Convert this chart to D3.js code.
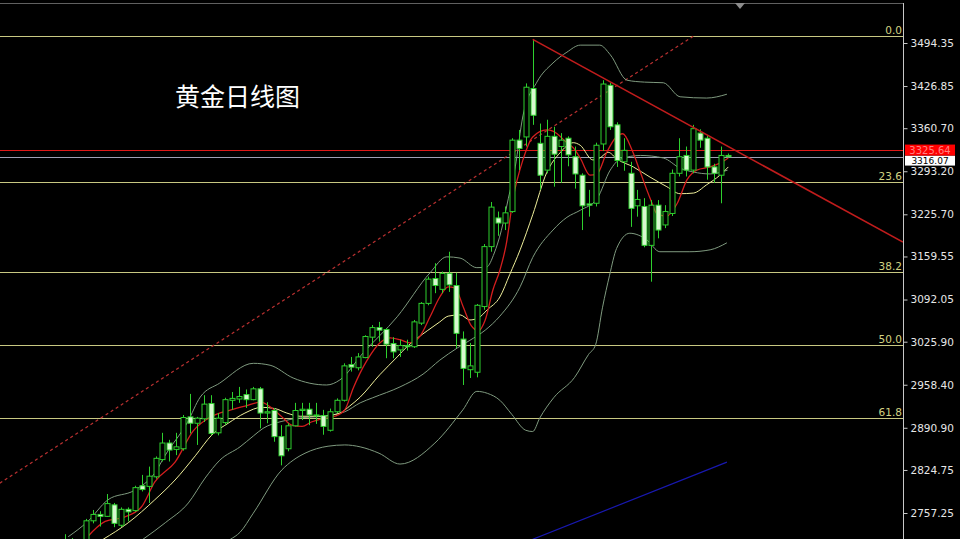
<!DOCTYPE html>
<html><head><meta charset="utf-8">
<script src="https://cdn.jsdelivr.net/npm/d3@7"></script>
<style>html,body{margin:0;padding:0;background:#000;overflow:hidden}</style>
</head><body>
<svg id="c" width="960" height="539"></svg>
<script>
// ---- data (XAUUSD daily) ----
const firstIndex = -3;
const opens  = [2705,2715,2703,2710,2745,2755,2752,2770,2738,2763,2761,2800,2799,2814,2841,2867,2857,2858,2908,2898,2905,2929,2883,2899,2934,2936,2943,2935,2952,2914,2918,2877,2858,2894,2918,2920,2911,2910,2887,2916,2934,2990,2985,3001,3033,3048,3045,3023,3013,3020,3018,3055,3086,3125,3108,3133,3114,3030,2982,2978,3081,3175,3220,3212,3230,3342,3347,3423,3337,3295,3348,3332,3345,3316,3287,3242,3243,3336,3428,3366,3308,3290,3239,3238,3177,3240,3209,3227,3290,3318,3295,3353,3345,3300,3287,3318];
const highs  = [2724,2718,2716,2748,2762,2760,2787,2773,2766,2766,2800,2817,2830,2846,2883,2872,2883,2911,2944,2908,2942,2942,2914,2938,2947,2955,2951,2955,2955,2931,2922,2895,2898,2930,2930,2930,2930,2919,2921,2937,2992,3002,3008,3036,3052,3057,3047,3033,3029,3029,3060,3088,3128,3149,3136,3167,3134,3042,3024,3085,3179,3245,3230,3238,3345,3358,3431,3500,3368,3374,3363,3353,3348,3332,3290,3264,3338,3436,3432,3370,3345,3308,3264,3251,3248,3248,3240,3296,3345,3332,3366,3359,3350,3305,3332,3321];
const lows   = [2697,2698,2696,2706,2741,2736,2751,2735,2735,2744,2759,2791,2773,2811,2838,2838,2848,2855,2882,2864,2900,2879,2879,2895,2919,2930,2922,2934,2890,2898,2869,2832,2854,2893,2903,2895,2897,2880,2885,2914,2932,2979,2981,3000,3018,3026,3000,3000,3002,3012,3016,3052,3083,3102,3102,3104,3016,2958,2969,2970,3076,3167,3192,3201,3228,3295,3332,3366,3264,3290,3269,3275,3301,3266,3201,3222,3238,3325,3358,3300,3294,3206,3222,3174,3120,3188,3204,3223,3285,3285,3290,3330,3280,3275,3243,3315];
const closes = [2715,2703,2708,2745,2755,2752,2772,2741,2763,2759,2797,2794,2815,2843,2867,2856,2861,2907,2898,2906,2928,2882,2906,2935,2937,2940,2935,2952,2914,2916,2877,2847,2894,2918,2920,2911,2910,2893,2916,2934,2988,2986,3002,3034,3048,3044,3022,3010,3020,3018,3057,3086,3124,3114,3133,3115,3039,2984,2988,3083,3175,3237,3212,3228,3342,3329,3425,3381,3287,3348,3320,3342,3319,3289,3239,3240,3334,3430,3363,3310,3326,3235,3249,3177,3240,3201,3230,3290,3316,3295,3360,3342,3300,3290,3318,3316];

// indicator lines: [candle index, price]
const ma5Line = [[0.1,2718],[2.8,2744],[5.6,2751],[8,2767],[9.9,2806],[12.8,2837],[15.4,2886],[17.9,2908],[20.8,2919],[22.8,2925],[25.1,2931],[26.5,2923],[28.1,2908],[29.5,2895],[31,2893],[32.3,2900],[33.8,2905],[35.7,2909],[37.1,2919],[38.3,2953],[39.3,2977],[40.3,2997],[42.1,3024],[43.6,3032],[45,3029],[46.4,3024],[47.9,3035],[49.3,3065],[50.7,3096],[51.9,3112],[52.9,3110],[54,3082],[55.2,3051],[56.2,3043],[57.2,3060],[58.3,3107],[59.3,3138],[60.2,3178],[61.2,3251],[62.6,3311],[64,3347],[66,3358],[66.9,3356],[68.9,3338],[69.8,3330],[70.8,3314],[72.2,3287],[73.2,3289],[74.6,3323],[75.8,3345],[76.9,3352],[78.2,3327],[79.4,3292],[80.8,3251],[81.9,3225],[83.2,3223],[84.7,3243],[86.1,3280],[87.5,3295],[89.4,3300],[90.8,3306],[92,3314]];
const ma10Line = [[2.5,2716],[6.1,2742],[9.9,2778],[12.8,2809],[15.7,2847],[18.1,2880],[20.4,2898],[22.8,2914],[25.2,2923],[27.1,2921],[28.8,2914],[30.7,2909],[33.8,2909],[36.4,2914],[37.8,2925],[39.3,2939],[42.1,2974],[44.6,3002],[46,3018],[48.9,3043],[50.7,3057],[51.9,3066],[53.6,3068],[55,3060],[56.2,3063],[57.5,3076],[59.3,3096],[60.7,3131],[62.2,3170],[64,3225],[66,3291],[67.9,3322],[69.8,3338],[70.8,3334],[72.6,3311],[73.6,3314],[74.8,3323],[76.1,3312],[78.4,3300],[80.8,3284],[83.2,3269],[85.1,3258],[87,3259],[88.9,3272],[90.8,3287],[92,3300]];
const bbUpper = [[-2.5,2720],[0.3,2744],[3.2,2778],[7,2793],[9.9,2820],[11.4,2848],[14.6,2900],[16.4,2939],[19.2,2961],[24,2992],[26.4,2989],[29.7,2969],[34.5,2958],[36.4,2966],[39.7,3008],[44.6,3065],[49.3,3134],[51.7,3159],[53.6,3157],[56,3142],[57.4,3143],[58.5,3165],[59.5,3200],[60.5,3250],[61.5,3300],[62.6,3380],[64.6,3433],[66.9,3463],[68.9,3480],[70.8,3491],[73.6,3491],[75.1,3476],[77.5,3436],[80,3433],[82.7,3432],[85.1,3410],[88.9,3408],[91.8,3414]];
const bbMiddle = [[8.2,2716],[11.4,2742],[14.7,2773],[17.1,2812],[19.2,2840],[22.1,2861],[24,2878],[25.4,2890],[28.1,2901],[30.4,2906],[33.8,2909],[37.1,2916],[39.3,2930],[41.1,2938],[45,2955],[48.3,2975],[50.7,2997],[53.2,3016],[55,3028],[57.2,3044],[59.3,3066],[62.2,3112],[64,3158],[66.9,3201],[68.9,3221],[70.8,3232],[73.2,3250],[75.1,3295],[76.5,3312],[79.4,3318],[82.7,3314],[85.1,3298],[87,3292],[89.4,3289],[91.9,3295]];
const bbLower = [[20.7,2716],[22.1,2727],[24,2757],[28.1,2825],[29.7,2840],[31.4,2851],[34.7,2862],[37.1,2864],[39.3,2861],[42,2851],[45,2834],[50,2867],[54,2919],[56,2948],[57.5,2945],[59.3,2934],[61,2912],[63,2887],[64,2885],[65,2906],[67,2938],[70,2970],[72,3006],[73,3021],[74,3080],[75,3130],[76,3172],[77.9,3196],[80.3,3186],[82.2,3167],[86.5,3167],[89.4,3170],[91.8,3181]];
const blueLine = [[64,2716],[91.8,2837]];
const dottedTrend = [[-12.3,2804],[87,3505]];
const solidTrend = [[64,3500],[117,3182]];

const fibPrices = [3505.3,3276.3,3135.2,3020.7,2906.2];
const fibLabels = ["0.0","23.6","38.2","50.0","61.8"];
const tickValues = [3494.35,3426.85,3360.70,3293.20,3225.70,3159.55,3092.05,3025.90,2958.40,2890.90,2824.75,2757.25];
const markLine = 3325.64;
const bidLine = 3316.07;
const title = "黄金日线图";

// ---- drawing ----
const svg = d3.select("#c");
const W = 960, H = 539, axisX = 903;
const x = d3.scaleLinear().domain([-3, 92]).range([64.7, 728.3]);
const y = d3.scaleLinear().domain([2757.25, 3494.35]).range([513, 43]);

svg.append("rect").attr("width",W).attr("height",H).attr("fill","#000");
svg.append("defs").append("clipPath").attr("id","clip")
  .append("rect").attr("x",0).attr("y",0).attr("width",axisX).attr("height",H);
const g = svg.append("g").attr("clip-path","url(#clip)");

// fib lines
fibPrices.forEach((p,i)=>{
  g.append("line").attr("x1",0).attr("x2",axisX).attr("y1",Math.round(y(p))+0.5).attr("y2",Math.round(y(p))+0.5)
    .attr("stroke","#c8c882").attr("stroke-width",1);
  svg.append("text").attr("x",axisX-1).attr("y",Math.round(y(p))-2).attr("text-anchor","end")
    .attr("font-family","DejaVu Sans, sans-serif").attr("font-size",10.5).attr("fill","#d2d282").text(fibLabels[i]);
});

// horizontal price lines
g.append("line").attr("x1",0).attr("x2",axisX).attr("y1",Math.round(y(bidLine))+0.5).attr("y2",Math.round(y(bidLine))+0.5)
  .attr("stroke","#a0a0b4").attr("stroke-width",1);
g.append("line").attr("x1",0).attr("x2",axisX).attr("y1",Math.round(y(markLine))-0.5).attr("y2",Math.round(y(markLine))-0.5)
  .attr("stroke","#e01818").attr("stroke-width",1);

const line = d3.line().x(d=>x(d[0])).y(d=>y(d[1])).curve(d3.curveMonotoneX);
const straight = d3.line().x(d=>x(d[0])).y(d=>y(d[1]));

g.append("path").attr("d",straight(dottedTrend)).attr("fill","none").attr("stroke","#b83030")
  .attr("stroke-width",1.3).attr("stroke-dasharray","3,3");

[bbUpper,bbMiddle,bbLower].forEach(l=>{
  g.append("path").attr("d",line(l)).attr("fill","none").attr("stroke","#7f9a7f").attr("stroke-width",1);
});
g.append("path").attr("d",line(ma10Line)).attr("fill","none").attr("stroke","#eeee9a").attr("stroke-width",1);
g.append("path").attr("d",line(ma5Line)).attr("fill","none").attr("stroke","#d41e1e").attr("stroke-width",1.3);
g.append("path").attr("d",straight(blueLine)).attr("fill","none").attr("stroke","#1818b0").attr("stroke-width",1.2);

// candles
const candles = opens.map((o,i)=>({i:firstIndex+i,o,h:highs[i],l:lows[i],c:closes[i]}));
const cg = g.append("g");
cg.selectAll("line.w").data(candles).join("line")
  .attr("x1",d=>Math.round(x(d.i))+0.5).attr("x2",d=>Math.round(x(d.i))+0.5)
  .attr("y1",d=>y(d.h)).attr("y2",d=>y(d.l)).attr("stroke","#2ed02e").attr("stroke-width",1);
cg.selectAll("rect.b").data(candles).join("rect")
  .attr("x",d=>Math.round(x(d.i))-2).attr("width",5)
  .attr("y",d=>y(Math.max(d.o,d.c))).attr("height",d=>Math.max(1,Math.abs(y(d.o)-y(d.c))))
  .attr("fill",d=>d.c>=d.o?"#000":"#d8f8d0").attr("stroke","#2ed02e").attr("stroke-width",1);

g.append("path").attr("d",straight(solidTrend)).attr("fill","none").attr("stroke","#c01c1c").attr("stroke-width",1.6);

// axis
svg.append("line").attr("x1",axisX+0.5).attr("x2",axisX+0.5).attr("y1",3).attr("y2",H).attr("stroke","#c8c8c8");
const ax = svg.append("g").attr("transform",`translate(${axisX+0.5},0)`)
  .call(d3.axisRight(y).tickValues(tickValues).tickFormat(d3.format(".2f")).tickSize(4).tickPadding(3));
ax.select(".domain").remove();
ax.selectAll("line").attr("stroke","#c8c8c8");
ax.selectAll("text").attr("fill","#e6e6e6").attr("font-family","DejaVu Sans, sans-serif").attr("font-size",10.5);

// price labels (white bid label partly under the red one, as in the reference)
const bidY = y(bidLine), markY = y(markLine);
svg.append("rect").attr("x",905).attr("y",markY+5).attr("width",50).attr("height",10).attr("fill","#fff");
svg.append("text").attr("x",930).attr("y",markY+10).attr("dy","0.35em").attr("text-anchor","middle")
  .attr("font-family","DejaVu Sans, sans-serif").attr("font-size",9).attr("fill","#000").text(d3.format(".2f")(bidLine));
svg.append("rect").attr("x",905).attr("y",markY-6).attr("width",50).attr("height",11).attr("fill","#ff0000");
svg.append("text").attr("x",930).attr("y",markY-0.5).attr("dy","0.35em").attr("text-anchor","middle")
  .attr("font-family","DejaVu Sans, sans-serif").attr("font-size",10).attr("fill","#ff8080").text(d3.format(".2f")(markLine));

// top border & shift marker
svg.append("line").attr("x1",0).attr("x2",axisX).attr("y1",3.5).attr("y2",3.5).attr("stroke","#606060");
svg.append("path").attr("d","M735,3L745,3L740,9Z").attr("fill","#8c8c8c");

// title
svg.append("text").attr("x",175).attr("y",95).attr("dominant-baseline","central")
  .attr("font-family","'Noto Sans CJK SC', sans-serif").attr("font-size",25).attr("fill","#fff").text(title);
</script>
</body></html>
